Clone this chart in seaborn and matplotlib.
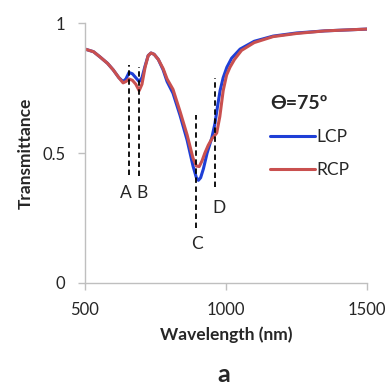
import numpy as np
import matplotlib
matplotlib.use("Agg")
import matplotlib.pyplot as plt
import pandas as pd
import seaborn as sns

# wavelength (nm) and transmittance
wl_lcp = [500, 530, 553, 580, 600, 620, 635, 645, 656, 668, 680, 692, 702, 713, 724, 734, 745, 760,
          777, 791, 812, 837, 862, 883, 895, 902, 910, 920, 933, 950, 961, 970, 979, 990, 1003,
          1020, 1050, 1100, 1167, 1250, 1350, 1500]
t_lcp = [0.90, 0.89, 0.87, 0.845, 0.82, 0.79, 0.775, 0.785, 0.81, 0.805, 0.79, 0.775, 0.79, 0.835,
         0.875, 0.885, 0.88, 0.86, 0.82, 0.775, 0.73, 0.645, 0.55, 0.45, 0.405, 0.395, 0.405, 0.44,
         0.5, 0.56, 0.615, 0.68, 0.74, 0.79, 0.83, 0.865, 0.9, 0.93, 0.95, 0.962, 0.97, 0.977]

wl_rcp = [500, 530, 553, 580, 600, 620, 635, 645, 656, 668, 680, 692, 702, 713, 724, 734, 745, 760,
          777, 791, 812, 837, 862, 883, 895, 905, 915, 925, 937, 950, 967, 978, 990, 1002, 1014,
          1030, 1055, 1100, 1167, 1250, 1350, 1500]
t_rcp = [0.90, 0.89, 0.87, 0.845, 0.82, 0.79, 0.77, 0.775, 0.785, 0.78, 0.765, 0.74, 0.765, 0.83,
         0.875, 0.885, 0.88, 0.86, 0.825, 0.785, 0.745, 0.66, 0.57, 0.48, 0.45, 0.448, 0.47, 0.5,
         0.53, 0.555, 0.577, 0.64, 0.74, 0.8, 0.83, 0.86, 0.895, 0.925, 0.948, 0.96, 0.97, 0.977]

mark_labels = ["A", "B", "C", "D"]
mark_x = [656, 690, 895, 961]
mark_ymin = [0.415, 0.41, 0.21, 0.37]
mark_ymax = [0.84, 0.83, 0.645, 0.79]
label_x = [645, 702, 898, 975]
label_y = [0.345, 0.345, 0.15, 0.29]

df = pd.concat([
    pd.DataFrame({"wl": wl_lcp, "T": t_lcp, "pol": "LCP"}),
    pd.DataFrame({"wl": wl_rcp, "T": t_rcp, "pol": "RCP"}),
])

sns.set_style("white")
plt.rcParams["font.family"] = ["Lato", "DejaVu Sans"]

fig = plt.figure(figsize=(3.9, 3.85), dpi=100)
ax = fig.add_axes([0.218, 0.265, 0.723, 0.675])

sns.lineplot(data=df, x="wl", y="T", hue="pol", palette={"LCP": "#1f3fd6", "RCP": "#c9504f"},
             lw=2.2, ax=ax, sort=False)

ax.vlines(mark_x, mark_ymin, mark_ymax, colors="black", linestyles=(0, (3, 2)), lw=1.3)
for lab, x, y in zip(mark_labels, label_x, label_y):
    ax.text(x, y, lab, ha="center", va="center", fontsize=12.5)

ax.set_xlim(500, 1500)
ax.set_ylim(0, 1)
ax.set_xticks([500, 1000, 1500])
ax.set_yticks([0, 0.5, 1])
ax.set_yticklabels(["0", "0.5", "1"])
for s in ["top", "right"]:
    ax.spines[s].set_visible(False)
for s in ["left", "bottom"]:
    ax.spines[s].set_color("#bfbfbf")
    ax.spines[s].set_linewidth(1.0)
ax.tick_params(axis="both", direction="out", length=5, width=1, color="#bfbfbf",
               labelsize=12, pad=9, left=True, bottom=True)

ax.set_xlabel("Wavelength (nm)", fontsize=12.5, fontweight="bold", labelpad=6)
ax.set_ylabel("Transmittance", fontsize=12.5, fontweight="bold", labelpad=6)

handles, labels = ax.get_legend_handles_labels()
leg = ax.legend(handles, labels, title="ϴ=75º", frameon=False, loc="upper left",
                bbox_to_anchor=(0.6, 0.785), fontsize=12.5, handlelength=2.6,
                handletextpad=0.1, labelspacing=1.0, alignment="left")
leg.get_title().set_fontsize(14)
leg.get_title().set_fontweight("bold")

fig.text(0.575, 0.028, "a", ha="center", va="center", fontsize=18, fontweight="bold")

fig.savefig("out.png", dpi=100)
